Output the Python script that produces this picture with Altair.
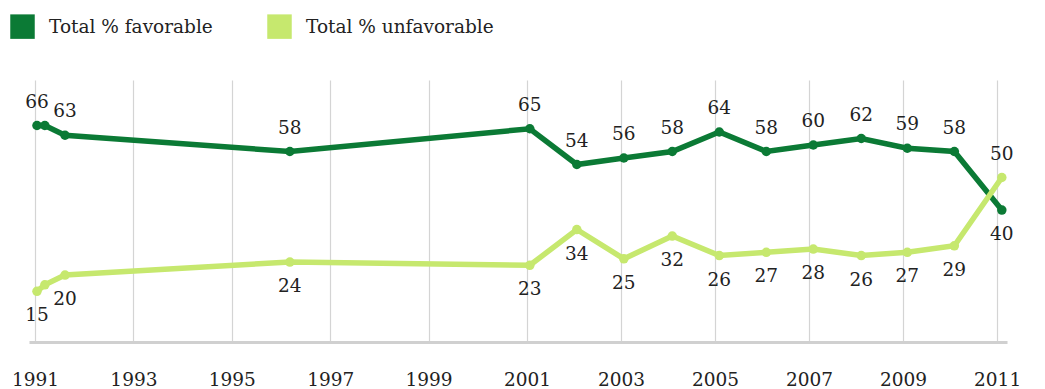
import altair as alt
import pandas as pd

# decimal survey dates (years)
dates = [1991.04, 1991.2, 1991.61, 1996.18, 2001.06, 2002.06, 2003.06, 2004.09,
         2005.09, 2006.09, 2007.09, 2008.11, 2009.09, 2010.09, 2011.1]
favorable = [66, 66, 63, 58, 65, 54, 56, 58, 64, 58, 60, 62, 59, 58, 40]
unfavorable = [15, 17, 20, 24, 23, 34, 25, 32, 26, 27, 28, 26, 27, 29, 50]
show_label = [True, False, True, True, True, True, True, True, True, True, True, True, True, True, True]
series_names = ["Total % favorable", "Total % unfavorable"]
series_colors = ["#0b7a35", "#c6e86e"]
tick_years = [1991, 1993, 1995, 1997, 1999, 2001, 2003, 2005, 2007, 2009, 2011]

rows = []
n = len(dates)
for i in range(n):
    for s, vals in zip(series_names, [favorable, unfavorable]):
        last = i == n - 1
        above = (s == series_names[0]) != last
        rows.append({
            "date": dates[i],
            "series": s,
            "value": vals[i],
            "label": str(vals[i]) if show_label[i] else "",
            "dy": -24 if above else 24,
        })
df = pd.DataFrame(rows)

FONT = "DejaVu Serif"

x = alt.X("date:Q",
          scale=alt.Scale(domain=[1990.878, 2001, 2011.21], range=[0, 498, 978], nice=False, zero=False),
          axis=alt.Axis(values=tick_years, format="d", title=None, grid=True, gridColor="#d4d4d4",
                        gridWidth=1.2, domainColor="#d0d0d0", domainWidth=3, ticks=False,
                        labelFont=FONT, labelFontSize=18.5, labelColor="#222", labelPadding=28,
                        labelFlush=False))
y = alt.Y("value:Q", scale=alt.Scale(domain=[-0.6, 80], nice=False, zero=False), axis=None)
color = alt.Color("series:N",
                  scale=alt.Scale(domain=series_names, range=series_colors),
                  legend=alt.Legend(title=None, orient="none", direction="horizontal",
                                    legendX=-19, legendY=-66,
                                    symbolType="square", symbolSize=600, symbolStrokeWidth=0,
                                    labelFont=FONT, labelFontSize=18.5, labelColor="#222",
                                    labelLimit=0, columnPadding=54, labelOffset=14, symbolOpacity=1))

base = alt.Chart(df)
lines = base.mark_line(strokeWidth=5.5).encode(x=x, y=y, color=color, detail="series:N", order="date:Q")
points = base.mark_point(filled=True, size=90, opacity=1).encode(x=x, y=y, color=color)

texts = []
for d in [-24, 24]:
    texts.append(base.transform_filter(alt.datum.dy == d).mark_text(
        font=FONT, fontSize=18.5, color="#222", baseline="middle", align="center", dy=d
    ).encode(x=x, y=y, text="label:N"))

chart = alt.layer(lines, points, *texts).properties(
    width=978, height=262,
    padding={"left": 29, "top": 80, "right": 38, "bottom": 47},
    autosize=alt.AutoSizeParams(type="none"),
).configure_view(stroke=None)

chart.save("out.html", embed_options={"renderer": "svg", "actions": False})
